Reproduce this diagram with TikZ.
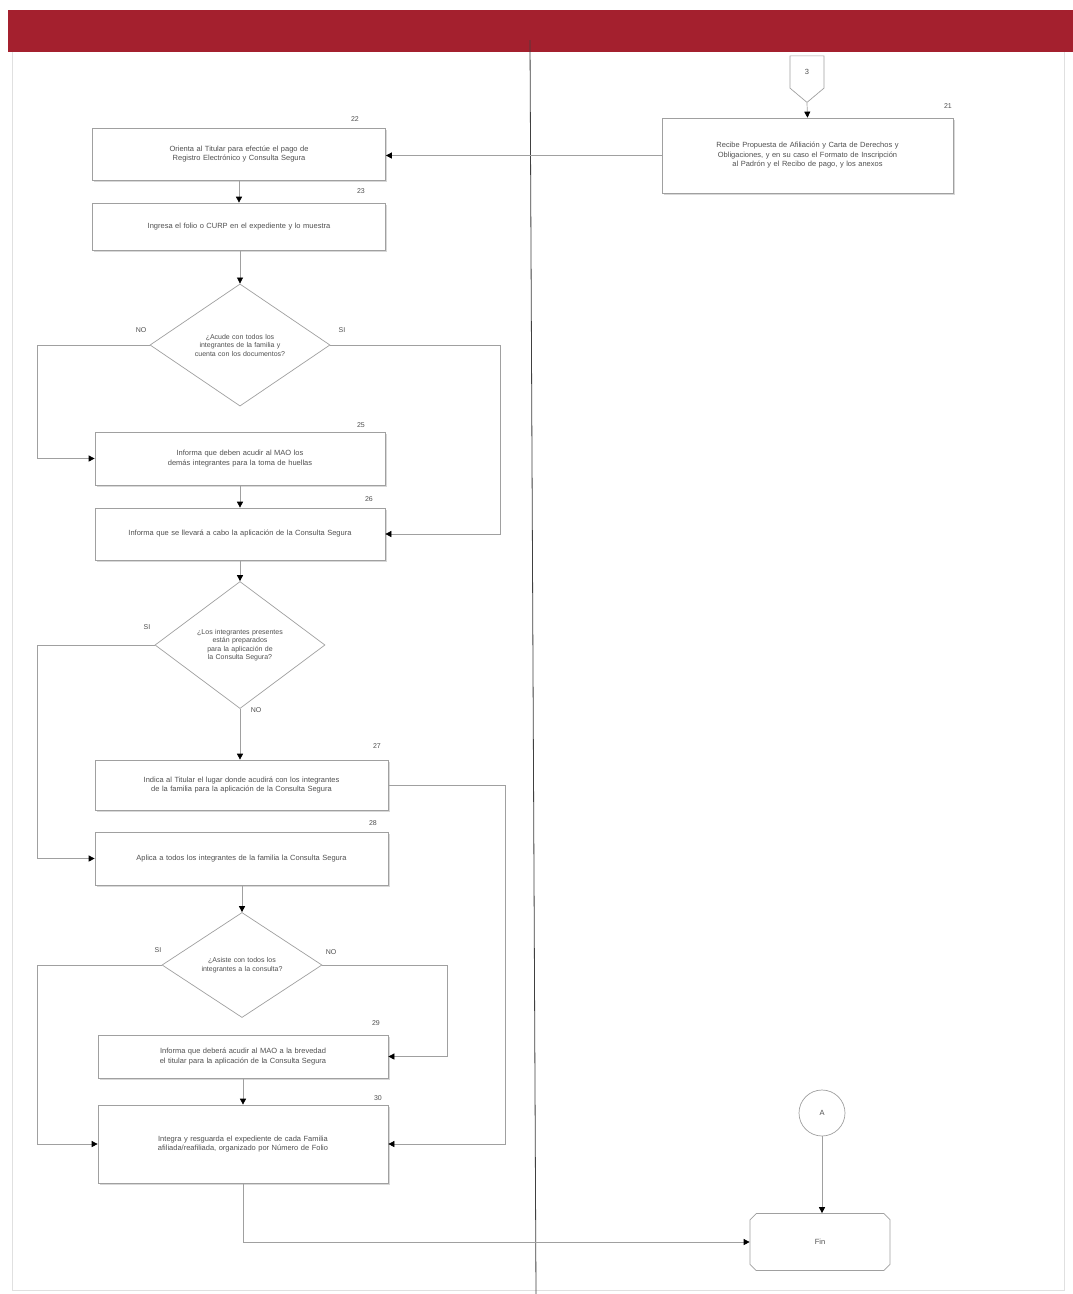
\documentclass[tikz,border=0pt]{standalone}
\usepackage{fontspec}
\setmainfont{Liberation Sans}
\usetikzlibrary{arrows.meta,shapes.geometric,shapes.misc,shapes.symbols,shadows}
\definecolor{hdr}{HTML}{A4202E}
\definecolor{ln}{HTML}{A0A0A0}
\definecolor{txt}{HTML}{505050}
\hyphenpenalty=10000
\exhyphenpenalty=10000
\begin{document}
\begin{tikzpicture}[x=1pt,y=-1pt,
  proc/.style={rectangle, draw=ln, line width=0.7pt, fill=white, text=txt,
    font=\fontsize{7.5}{9.5}\selectfont, align=center, inner sep=2pt,
    drop shadow={shadow xshift=1.5pt, shadow yshift=-1.5pt, fill=black!25, opacity=0.6}},
  dec/.style={diamond, draw=ln, line width=0.7pt, fill=white, text=txt,
    font=\fontsize{7}{8.5}\selectfont, align=center, inner sep=0pt, text width=100pt},
  num/.style={text=txt, font=\fontsize{7}{8}\selectfont, inner sep=1pt},
  lbl/.style={text=txt, font=\fontsize{7}{8}\selectfont, inner sep=1pt},
  arr/.style={draw=ln, line width=0.7pt, -{Triangle[length=6pt,width=6pt,color=black]}}
]
\useasboundingbox (0,0) rectangle (1073,1294);
\fill[white] (0,0) rectangle (1073,1294);
% frame and header
\draw[black!12, line width=0.8pt] (12,52) -- (12,1290) -- (1064,1290) -- (1064,52);
\fill[hdr] (8,10) rectangle (1073,52);
\draw[black!75, line width=0.8pt] (530,40) -- (536,1294);

% right lane
\node[signal, signal to=south, signal pointer angle=100, draw=ln, line width=0.7pt, fill=white,
  minimum width=34pt, minimum height=34pt, inner sep=0pt, text=txt,
  font=\fontsize{7.5}{9}\selectfont] (off) at (807,72) {3};
\node[proc, minimum width=291pt, minimum height=75pt, text width=225pt] (b21) at (807.5,155.5)
  {Recibe Propuesta de Afiliación y Carta de Derechos y Obligaciones, y en su caso el Formato de Inscripción al Padrón y el Recibo de pago, y los anexos};
\node[num, anchor=south east] at (953,110) {21};

% left lane
\node[proc, minimum width=293pt, minimum height=52pt, text width=265pt] (b22) at (239,154)
  {Orienta al Titular para efectúe el pago de Registro Electrónico y Consulta Segura};
\node[num, anchor=south east] at (360,123) {22};
\node[proc, minimum width=293pt, minimum height=47pt, text width=265pt] (b23) at (239,226.5)
  {Ingresa el folio o CURP en el expediente y lo muestra};
\node[num, anchor=south east] at (366,195) {23};

\node[dec, minimum width=180pt, minimum height=120pt] (d1) at (240,345)
  {¿Acude con todos los integrantes de la familia y cuenta con los documentos?};
\node[lbl] at (141,330) {NO};
\node[lbl] at (342,330) {SI};

\node[proc, minimum width=290pt, minimum height=53pt, text width=260pt] (b25) at (240,458.5)
  {Informa que deben acudir al MAO los demás integrantes para la toma de huellas};
\node[num, anchor=south east] at (366,429) {25};
\node[proc, minimum width=290pt, minimum height=52pt, text width=260pt] (b26) at (240,534)
  {Informa que se llevará a cabo la aplicación de la Consulta Segura};
\node[num, anchor=south east] at (374,503) {26};

\node[dec, minimum width=170pt, minimum height=110pt, text width=95pt] (d2) at (240,645)
  {¿Los integrantes presentes están preparados para la aplicación de la Consulta Segura?};
\node[lbl] at (147,627) {SI};
\node[lbl] at (256,710) {NO};

\node[proc, minimum width=293pt, minimum height=50pt, text width=265pt] (b27) at (241.5,785)
  {Indica al Titular el lugar donde acudirá con los integrantes de la familia para la aplicación de la Consulta Segura};
\node[num, anchor=south east] at (382,750) {27};
\node[proc, minimum width=293pt, minimum height=53pt, text width=265pt] (b28) at (241.5,858.5)
  {Aplica a todos los integrantes de la familia la Consulta Segura};
\node[num, anchor=south east] at (378,827) {28};

\node[dec, minimum width=160pt, minimum height=100pt, text width=90pt] (d3) at (242,965)
  {¿Asiste con todos los integrantes a la consulta?};
\node[lbl] at (158,950) {SI};
\node[lbl] at (331,952) {NO};

\node[proc, minimum width=290pt, minimum height=43pt, text width=265pt] (b29) at (243,1056.5)
  {Informa que deberá acudir al MAO a la brevedad el titular para la aplicación de la Consulta Segura};
\node[num, anchor=south east] at (381,1027) {29};
\node[proc, minimum width=290pt, minimum height=78pt, text width=265pt] (b30) at (243,1144)
  {Integra y resguarda el expediente de cada Familia afiliada/reafiliada, organizado por Número de Folio};
\node[num, anchor=south east] at (383,1102) {30};

\node[circle, draw=ln, line width=0.7pt, fill=white, minimum size=46pt, inner sep=0pt, text=txt,
  font=\fontsize{7.5}{9}\selectfont] (ca) at (822,1113) {A};
\node[chamfered rectangle, chamfered rectangle xsep=16pt, draw=ln, line width=0.7pt, fill=white,
  minimum width=140pt, minimum height=57pt, inner sep=0pt, text=txt,
  font=\fontsize{7.5}{9}\selectfont] (fin) at (820,1242) {Fin};

% connectors
\draw[arr] (off.south) -- (b21.north);
\draw[arr] (b21.west) -- (b21.west -| b22.east);
\draw[arr] (b22.south) -- (b23.north);
\draw[arr] (d1.north |- b23.south) -- (d1.north);
\draw[arr] (d1.west) -- ++(-112,0) |- (b25.west);
\draw[arr] (d1.east) -- ++(170,0) |- (b26.east);
\draw[arr] (b25.south) -- (b26.north);
\draw[arr] (b26.south) -- (d2.north);
\draw[arr] (d2.west) -- ++(-117,0) |- (b28.west);
\draw[arr] (d2.south) -- (d2.south |- b27.north);
\draw[arr] (b27.east) -- ++(117,0) |- (b30.east);
\draw[arr] (d3.north |- b28.south) -- (d3.north);
\draw[arr] (d3.west) -- ++(-124,0) |- (b30.west);
\draw[arr] (d3.east) -- ++(125,0) |- (b29.east);
\draw[arr] (b29.south) -- (b30.north);
\draw[arr] (b30.south) |- (fin.west);
\draw[arr] (ca.south) -- (ca.south |- fin.north);
\end{tikzpicture}
\end{document}
